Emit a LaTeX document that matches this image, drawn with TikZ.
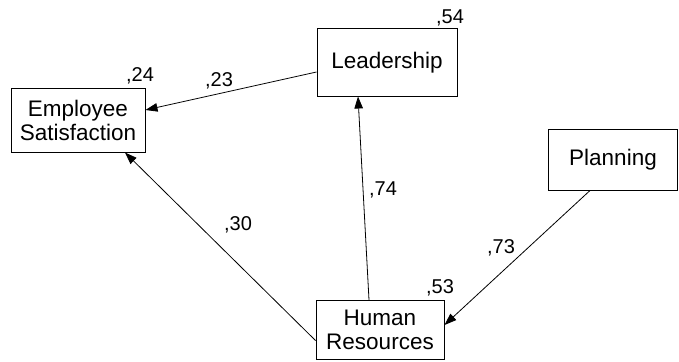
\documentclass[tikz,border=0pt]{standalone}
\usepackage{fontspec}
\setmainfont{Liberation Sans}
\usetikzlibrary{arrows.meta}
\begin{document}
\begin{tikzpicture}[x=1pt,y=-1pt,
  box/.style={draw,line width=1pt,rectangle,inner sep=0pt,align=center,
    font=\fontsize{22.5}{24}\selectfont},
  coef/.style={inner sep=0pt,font=\fontsize{20}{22}\selectfont},
  link/.style={line width=0.8pt,-{Triangle[length=12pt,width=8.5pt]}}]
\useasboundingbox[fill=white] (0,0) rectangle (679,361);
\node[box,minimum width=134pt,minimum height=64pt] (es) at (78,120) {Employee\\Satisfaction};
\node[box,minimum width=140pt,minimum height=67pt] (ld) at (387,62.5) {Leadership};
\node[box,minimum width=129pt,minimum height=61pt] (pl) at (613,159.5) {Planning};
\node[box,minimum width=128pt,minimum height=59pt] (hr) at (380,330) {Human\\Resources};
\node[coef] (c24) at (140,76) {,24};
\node[coef] (c54) at (450,18) {,54};
\node[coef] (c23) at (219,81) {,23};
\node[coef] (c30) at (238,225) {,30};
\node[coef] (c74) at (383,190) {,74};
\node[coef] (c73) at (501,248) {,73};
\node[coef] (c53) at (440,288) {,53};
\draw[link] ([yshift=-9.5pt]ld.west) -- ([yshift=10pt]es.east);
\draw[link] ([yshift=-10.5pt]hr.west) -- ([xshift=47pt]es.south);
\draw[link] ([xshift=-11pt]hr.north) -- ([xshift=-29pt]ld.south);
\draw[link] ([xshift=-23pt]pl.south) -- ([yshift=5pt]hr.east);
\end{tikzpicture}
\end{document}
